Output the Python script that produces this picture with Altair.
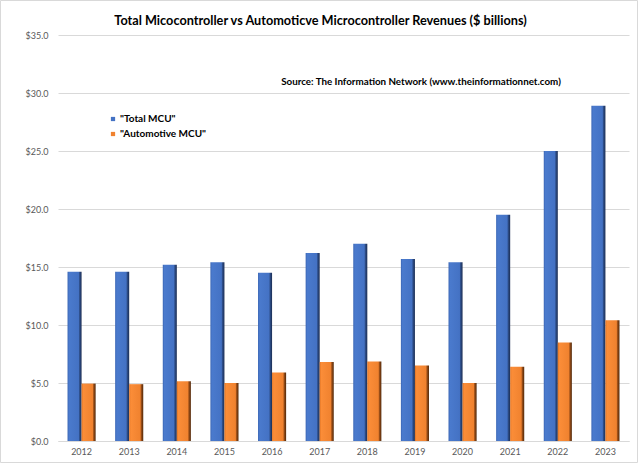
import altair as alt
import pandas as pd

years = ["2012", "2013", "2014", "2015", "2016", "2017", "2018", "2019", "2020", "2021", "2022", "2023"]
total_mcu = [14.6, 14.6, 15.2, 15.4, 14.5, 16.2, 17.0, 15.7, 15.4, 19.5, 25.0, 28.9]
auto_mcu = [4.95, 4.9, 5.15, 5.0, 5.9, 6.8, 6.85, 6.5, 5.0, 6.4, 8.5, 10.4]
series_names = ['"Total MCU"', '"Automotive MCU"']
series_colors = ["#4472C4", "#F0822F"]
title_text = "Total Micocontroller vs Automoticve Microcontroller Revenues ($ billions)"
source_text = "Source: The Information Network (www.theinformationnet.com)"

rows = []
for y, t, a in zip(years, total_mcu, auto_mcu):
    rows.append({"year": y, "series": series_names[0], "value": t})
    rows.append({"year": y, "series": series_names[1], "value": a})
df = pd.DataFrame(rows)

FONT = "Lato"

blue_grad = alt.LinearGradient(
    gradient="linear", x1=0, x2=1, y1=0, y2=0,
    stops=[
        alt.GradientStop(offset=0, color="#3b66b4"),
        alt.GradientStop(offset=0.12, color="#4a7acd"),
        alt.GradientStop(offset=0.78, color="#4472C4"),
        alt.GradientStop(offset=0.86, color="#2d4d88"),
        alt.GradientStop(offset=1, color="#1b2d52"),
    ],
)
orange_grad = alt.LinearGradient(
    gradient="linear", x1=0, x2=1, y1=0, y2=0,
    stops=[
        alt.GradientStop(offset=0, color="#e07424"),
        alt.GradientStop(offset=0.12, color="#fb8d38"),
        alt.GradientStop(offset=0.78, color="#F0822F"),
        alt.GradientStop(offset=0.86, color="#9c4f18"),
        alt.GradientStop(offset=1, color="#4e2608"),
    ],
)

x_enc = alt.X(
    "year:N",
    title=None,
    sort=years,
    scale=alt.Scale(paddingInner=0.41, paddingOuter=0.2),
    axis=alt.Axis(
        labelAngle=0, ticks=False, labelFont=FONT, labelFontSize=9,
        labelColor="#595959", labelPadding=6, domainColor="#d9d9d9",
        domainWidth=1, grid=False,
    ),
)
y_enc = alt.Y(
    "value:Q",
    title=None,
    scale=alt.Scale(domain=[0, 35], nice=False),
    axis=alt.Axis(
        values=[0, 5, 10, 15, 20, 25, 30, 35], format="$.1f", ticks=False,
        domain=False, labelFont=FONT, labelFontSize=9, labelColor="#595959",
        labelPadding=10, gridColor="#d9d9d9", gridWidth=1,
    ),
)
xoff = alt.XOffset("series:N", sort=series_names, scale=alt.Scale(domain=series_names, paddingInner=0, paddingOuter=0))

base = alt.Chart(df)
blue = base.transform_filter(alt.datum.series == series_names[0]).mark_bar(fill=blue_grad).encode(
    x=x_enc, y=y_enc, xOffset=xoff
)
orange = base.transform_filter(alt.datum.series == series_names[1]).mark_bar(fill=orange_grad).encode(
    x=x_enc, y=y_enc, xOffset=xoff
)
legend_layer = base.mark_square(opacity=0, size=1).encode(
    x=x_enc, y=y_enc,
    color=alt.Color(
        "series:N", sort=series_names,
        scale=alt.Scale(domain=series_names, range=series_colors),
        legend=alt.Legend(
            title=None, orient="none", legendX=50, legendY=79,
            symbolType="square", symbolSize=18, symbolOpacity=1,
            symbolStrokeWidth=0,
            labelFont=FONT, labelFontSize=10, labelFontWeight="bold",
            labelColor="#000000", rowPadding=5, labelOffset=2,
        ),
    ),
)
source = alt.Chart(pd.DataFrame({"t": [source_text]})).mark_text(
    font=FONT, fontSize=9.8, fontWeight="bold", color="#000000", align="center", baseline="middle"
).encode(text="t:N", x=alt.value(363), y=alt.value(47))

frame = alt.Chart(pd.DataFrame({"f": [0]})).mark_rect(
    fill="transparent", stroke="#d9d9d9", strokeWidth=1
).encode(x=alt.value(-57.5), x2=alt.value(579.5), y=alt.value(-34.5), y2=alt.value(427.5))

chart = alt.layer(blue, orange, legend_layer, source, frame).properties(
    width=571, height=406,
    title=alt.TitleParams(
        title_text, font=FONT, fontSize=12.7, fontWeight="bold", color="#000000",
        anchor="middle", frame="group", dx=-23, offset=7, dy=35,
    ),
    padding={"left": 58, "top": 35, "right": 11, "bottom": 24},
    autosize=alt.AutoSizeParams(type="none"),
).configure(background="#ffffff").configure_view(strokeWidth=0, stroke="transparent")

chart.save("out.html", embed_options={"renderer": "svg", "actions": False})
